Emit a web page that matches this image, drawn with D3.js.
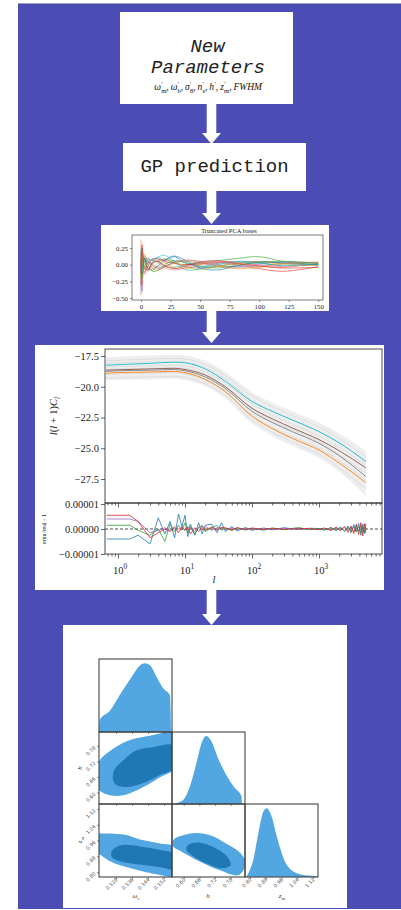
<!DOCTYPE html>
<html>
<head>
<meta charset="utf-8">
<script src="https://cdn.jsdelivr.net/npm/d3@7"></script>
<style>
  body { margin: 0; background: #fff; }
  svg { display: block; }
</style>
</head>
<body>
<svg id="chart" width="401" height="910"></svg>
<script>
// ---------- data ----------
const paramParts = [['ω', 'm'], ['ω', 'b'], ['σ', '8'], ['n', 's'], ['h', ''], ['z', 'm'], ['FWHM', '']];

// truncated PCA bases
const pcaX = [0, 1, 3, 6, 10, 15, 20, 28, 38, 50, 65, 80, 100, 120, 150];
const pcaBases = [
  [0.20, -0.15, 0.10, -0.08, 0.05, 0.10, 0.06, 0.12, 0.02, -0.03, 0.02, 0.05, 0.03, -0.02, 0.01],
  [0.38, -0.30, 0.15, 0.05, -0.05, -0.02, 0.03, -0.05, -0.06, 0.00, 0.04, 0.03, -0.02, -0.04, 0.02],
  [-0.10, 0.12, -0.05, 0.08, 0.06, 0.04, -0.02, -0.04, 0.00, 0.03, 0.06, 0.09, 0.12, 0.05, 0.00],
  [-0.30, 0.25, -0.12, 0.02, 0.09, 0.08, 0.05, 0.02, 0.00, 0.01, 0.03, 0.00, -0.06, -0.10, -0.03],
  [0.10, -0.40, 0.05, 0.10, -0.02, -0.06, -0.03, 0.04, 0.07, 0.05, 0.00, -0.03, 0.01, 0.04, 0.03],
  [-0.45, 0.18, 0.08, -0.05, 0.02, 0.06, 0.08, 0.03, -0.03, -0.05, -0.02, 0.02, 0.05, 0.02, -0.01],
  [0.05, 0.02, -0.15, -0.02, 0.08, 0.02, -0.05, -0.08, -0.04, 0.02, 0.05, 0.04, 0.00, -0.03, 0.02],
  [0.15, -0.05, 0.12, 0.05, 0.00, -0.04, -0.02, 0.03, 0.05, 0.02, -0.02, -0.04, -0.02, 0.02, 0.03],
  [-0.20, 0.10, 0.00, -0.10, -0.04, 0.04, 0.09, 0.05, -0.04, -0.07, -0.03, 0.02, 0.04, 0.01, -0.02],
  [0.25, -0.10, 0.05, 0.03, 0.08, 0.12, 0.14, 0.05, -0.08, -0.06, 0.00, 0.04, 0.02, -0.01, 0.01],
  [-0.05, 0.05, 0.08, -0.06, -0.08, 0.00, 0.07, 0.13, 0.06, -0.05, -0.08, -0.02, 0.04, 0.03, 0.00],
  [0.00, 0.15, -0.08, 0.06, -0.06, -0.08, -0.04, 0.02, 0.06, 0.04, -0.02, -0.06, -0.04, 0.01, 0.04],
  [0.08, -0.20, 0.10, 0.00, -0.10, -0.08, 0.00, 0.06, 0.03, -0.02, -0.05, -0.01, 0.03, 0.05, 0.02],
  [-0.15, 0.30, -0.05, -0.08, 0.03, 0.05, -0.02, -0.06, -0.02, 0.04, 0.06, 0.02, -0.02, -0.05, -0.04]
];
const pcaYTicks = [-0.50, -0.25, 0.00, 0.25];
const pcaXTicks = [0, 25, 50, 75, 100, 125, 150];

// power spectra l(l+1)C_l (log)
const ell = [0.66, 1, 3, 7, 10, 20, 40, 100, 200, 400, 1000, 2000, 5000];
const fanHi = [-17.6, -17.55, -17.45, -17.4, -17.45, -17.9, -18.8, -20.45, -21.3, -22.0, -22.9, -23.8, -25.2];
const fanLo = [-19.5, -19.45, -19.4, -19.35, -19.45, -19.95, -20.95, -23.0, -24.0, -24.8, -25.8, -26.9, -28.9];
const fanLines = [
  [-17.9, -17.85, -17.75, -17.7, -17.75, -18.2, -19.1, -20.75, -21.6, -22.35, -23.25, -24.2, -25.7],
  [-18.4, -18.35, -18.3, -18.25, -18.3, -18.8, -19.7, -21.4, -22.3, -23.05, -24.0, -24.9, -26.4],
  [-19.0, -18.95, -18.9, -18.85, -18.95, -19.45, -20.4, -22.3, -23.3, -24.05, -25.0, -26.0, -27.6],
  [-19.3, -19.25, -19.2, -19.15, -19.25, -19.75, -20.7, -22.7, -23.7, -24.5, -25.5, -26.6, -28.3],
  [-18.1, -18.05, -18.0, -17.95, -18.0, -18.45, -19.35, -21.1, -21.95, -22.7, -23.65, -24.6, -26.0],
  [-18.6, -18.55, -18.5, -18.45, -18.5, -19.0, -19.95, -21.8, -22.75, -23.5, -24.45, -25.5, -27.0]
];
const clCyan = [-18.25, -18.2, -18.1, -18.0, -18.05, -18.55, -19.55, -21.2, -22.0, -22.7, -23.65, -24.55, -26.1];
const clBrown = [-18.65, -18.62, -18.55, -18.5, -18.6, -19.05, -20.0, -21.75, -22.6, -23.35, -24.3, -25.2, -26.6];
const clGrey = [-18.75, -18.7, -18.65, -18.6, -18.7, -19.2, -20.15, -22.0, -22.9, -23.65, -24.6, -25.6, -27.3];
const clOrange = [-18.9, -18.85, -18.8, -18.75, -18.85, -19.4, -20.4, -22.4, -23.4, -24.2, -25.15, -26.2, -27.8];
const clYTicks = [-27.5, -25.0, -22.5, -20.0, -17.5];

// residuals emu/real - 1, in units of 1e-5
const resL = [0.68, 1.5, 2, 3, 4, 5, 6, 7, 8, 9, 10, 11, 12, 14, 16, 18, 20, 25, 30, 35, 40, 50, 60, 80, 100, 150, 200, 300, 500, 700, 1000,
  1200, 1500, 1800, 2100, 2400, 2700, 3000, 3300, 3600, 3900, 4200, 4500, 4800, 5000];
const resBlue = [-0.40, -0.40, -0.25, -0.60, 0.45, -0.20, 0.30, -0.35, 0.60, 0.10, 0.55, -0.30, 0.20, -0.25, 0.25, -0.20, 0.15, 0.20, -0.15, 0.25, -0.10, 0.10, -0.08, 0.06, -0.05, 0.04, -0.03, 0.05, -0.02, 0.03, 0.02,
  -0.05, 0.06, -0.04, 0.08, -0.10, 0.12, -0.15, 0.18, -0.12, 0.22, -0.25, 0.20, -0.18, 0.20];
const resGreen = [0.15, 0.15, -0.05, -0.25, 0.00, -0.50, 0.20, -0.10, 0.15, -0.05, 0.25, -0.15, 0.10, -0.20, 0.05, 0.15, -0.10, 0.05, 0.15, -0.05, 0.03, -0.06, 0.04, -0.04, 0.03, -0.05, 0.04, -0.02, 0.06, -0.03, 0.02,
  -0.03, 0.05, -0.06, 0.04, -0.08, 0.07, -0.10, 0.09, -0.12, 0.10, -0.14, 0.12, -0.10, 0.05];
const resPurple = [0.40, 0.40, 0.30, -0.15, -0.05, 0.05, -0.05, 0.10, 0.00, 0.05, -0.05, 0.10, 0.05, -0.10, 0.08, -0.05, 0.10, -0.05, 0.05, 0.04, -0.03, 0.05, -0.02, 0.03, -0.03, 0.02, -0.02, 0.03, -0.01, 0.02, -0.02,
  0.03, -0.04, 0.05, -0.06, 0.07, -0.05, 0.09, -0.10, 0.12, -0.08, 0.14, -0.12, 0.10, 0.08];
const resRed = [0.55, 0.55, 0.30, -0.35, -0.15, 0.00, -0.10, 0.05, -0.15, 0.10, -0.05, 0.08, -0.20, 0.05, -0.10, 0.12, -0.05, 0.08, -0.05, 0.06, 0.05, -0.04, 0.06, -0.03, 0.04, -0.02, 0.03, -0.02, 0.02, 0.01, -0.02,
  0.04, -0.06, 0.08, -0.05, 0.10, -0.14, 0.12, -0.18, 0.20, -0.22, 0.25, -0.28, 0.22, -0.15];
const resYTicks = [-1, 0, 1];
const decades = [1, 10, 100, 1000];

// posterior corner plot: marginals [value, density]
const wcMarg = [[0.1195, 0.0], [0.1200, 0.18], [0.1250, 0.31], [0.1308, 0.58], [0.1358, 0.80], [0.1400, 0.97], [0.1425, 1.0], [0.1450, 0.97], [0.1483, 0.80], [0.1517, 0.63], [0.1550, 0.53], [0.1556, 0.0]];
const hMarg = [[0.566, 0.01], [0.598, 0.06], [0.623, 0.25], [0.648, 0.59], [0.667, 0.88], [0.686, 1.0], [0.705, 0.93], [0.730, 0.69], [0.761, 0.44], [0.793, 0.25], [0.822, 0.11], [0.823, 0.0], [0.565, 0.0]];
const zMarg = [[0.784, 0.01], [0.817, 0.25], [0.843, 0.64], [0.868, 0.95], [0.885, 1.0], [0.910, 0.88], [0.936, 0.59], [0.969, 0.28], [1.020, 0.08], [1.088, 0.02], [1.139, 0.01], [1.139, 0.0], [0.784, 0.0]];
// 2D credible contours (outer 95%, inner 68%)
const wcH95 = [[0.1197, 0.723], [0.125, 0.761], [0.1334, 0.799], [0.1433, 0.818], [0.160, 0.83], [0.158, 0.697], [0.150, 0.659], [0.1417, 0.621], [0.1317, 0.589], [0.125, 0.589], [0.1197, 0.608], [0.1175, 0.659]];
const wcH68 = [[0.1270, 0.685], [0.1317, 0.725], [0.138, 0.763], [0.1467, 0.776], [0.1570, 0.782], [0.1575, 0.697], [0.150, 0.668], [0.1417, 0.637], [0.1317, 0.621], [0.1270, 0.638]];
const wcZ95 = [[0.1170, 1.00], [0.1197, 0.997], [0.132, 0.99], [0.140, 0.965], [0.150, 0.945], [0.158, 0.925], [0.158, 0.78], [0.150, 0.785], [0.135, 0.82], [0.125, 0.855], [0.1197, 0.89], [0.117, 0.90]];
const wcZ68 = [[0.1258, 0.905], [0.1300, 0.935], [0.140, 0.93], [0.150, 0.912], [0.158, 0.890], [0.158, 0.815], [0.150, 0.825], [0.140, 0.838], [0.130, 0.855], [0.126, 0.875]];
const hZ95 = [[0.560, 0.963], [0.635, 0.997], [0.698, 0.988], [0.761, 0.946], [0.818, 0.895], [0.837, 0.845], [0.812, 0.785], [0.736, 0.810], [0.661, 0.853], [0.592, 0.903], [0.560, 0.929]];
const hZ68 = [[0.617, 0.937], [0.661, 0.949], [0.724, 0.920], [0.767, 0.878], [0.780, 0.836], [0.749, 0.819], [0.686, 0.845], [0.629, 0.887], [0.610, 0.912]];
const wcTicks = [0.128, 0.136, 0.144, 0.152];
const hTicks = [0.60, 0.66, 0.72, 0.78];
const zTicks = [0.80, 0.88, 0.96, 1.04, 1.12];

// ---------- helpers ----------
const svg = d3.select('#chart');
const serif = 'Liberation Serif, DejaVu Serif, serif';
const mono = 'Liberation Mono, DejaVu Sans Mono, monospace';
const minus = s => s.replace('-', '\u2212');

// rich text: segments {t, it, sh, dx} where sh is baseline shift in em (+ down)
function rich(sel, segs, size) {
  let off = 0;
  segs.forEach(s => {
    const sh = (s.sh || 0) * size;
    const ts = sel.append('tspan').text(s.t);
    if (sh - off !== 0) ts.attr('dy', sh - off);
    if (s.it) ts.attr('font-style', 'italic');
    if (s.sh) ts.attr('font-size', size * 0.7);
    if (s.dx) ts.attr('dx', s.dx);
    off = sh;
  });
  return sel;
}

// ---------- background and flow ----------
svg.append('rect').attr('x', 18).attr('y', 3).attr('width', 383).attr('height', 906).attr('fill', '#4b4db4');
svg.append('line').attr('x1', 18).attr('x2', 401).attr('y1', 3.5).attr('y2', 3.5).attr('stroke', '#a0a0b8').attr('stroke-width', 1);

const boxes = [[120, 12, 173, 92], [123, 143, 183, 48], [101, 225, 228, 86], [35, 345, 349, 245], [63, 625, 284, 283]];
svg.selectAll('rect.box').data(boxes).join('rect').attr('class', 'box')
  .attr('x', d => d[0]).attr('y', d => d[1]).attr('width', d => d[2]).attr('height', d => d[3]).attr('fill', '#fff');

const arrows = [[104, 144], [191, 224], [311, 343], [590, 625]];
svg.selectAll('path.arrow').data(arrows).join('path').attr('class', 'arrow').attr('fill', '#fff')
  .attr('d', d => {
    const cx = 211.5, hw = 4.8, hh = 9.5, head = 11;
    const p = d3.path();
    p.moveTo(cx - hw, d[0]); p.lineTo(cx + hw, d[0]); p.lineTo(cx + hw, d[1] - head);
    p.lineTo(cx + hh, d[1] - head); p.lineTo(cx, d[1]); p.lineTo(cx - hh, d[1] - head);
    p.lineTo(cx - hw, d[1] - head); p.closePath();
    return p.toString();
  });

// box 1 text
svg.append('text').attr('x', 207.5).attr('y', 52).attr('text-anchor', 'middle').attr('font-family', mono)
  .attr('font-style', 'italic').attr('font-size', 19).attr('fill', '#222').text('New');
svg.append('text').attr('x', 208).attr('y', 73).attr('text-anchor', 'middle').attr('font-family', mono)
  .attr('font-style', 'italic').attr('font-size', 19).attr('fill', '#222').text('Parameters');
const pSegs = [];
paramParts.forEach((p, i) => {
  pSegs.push({ t: p[0], it: 1 });
  pSegs.push({ t: '\u2032', sh: -0.4, dx: 0.3 });
  if (p[1]) pSegs.push({ t: p[1], sh: 0.3, dx: -1.6 });
  if (i < paramParts.length - 1) pSegs.push({ t: ',\u2009' });
});
rich(svg.append('text').attr('x', 209).attr('y', 90).attr('text-anchor', 'middle').attr('font-family', serif)
  .attr('font-size', 9.5).attr('fill', '#111'), pSegs, 9.5);

// box 2 text
svg.append('text').attr('x', 214.5).attr('y', 172).attr('text-anchor', 'middle').attr('font-family', mono)
  .attr('font-size', 19).attr('fill', '#222').text('GP prediction');

// ---------- PCA panel ----------
{
  const x = d3.scaleLinear([-7.6, 154], [132, 323]);
  const y = d3.scaleLinear([-0.53, 0.445], [300, 235]);
  const g = svg.append('g');
  g.append('clipPath').attr('id', 'cpPca').append('rect').attr('x', 132).attr('y', 235).attr('width', 191).attr('height', 65);
  const line = d3.line().x((d, i) => x(pcaX[i])).y(d => y(d)).curve(d3.curveCatmullRom);
  g.append('g').attr('clip-path', 'url(#cpPca)').selectAll('path').data(pcaBases).join('path')
    .attr('d', line).attr('fill', 'none').attr('stroke', (d, i) => d3.schemeCategory10[i % 10]).attr('stroke-width', 0.6);
  g.append('rect').attr('x', 132).attr('y', 235).attr('width', 191).attr('height', 65).attr('fill', 'none').attr('stroke', '#222').attr('stroke-width', 0.6);
  const ax = g.append('g').attr('transform', 'translate(0,300)')
    .call(d3.axisBottom(x).tickValues(pcaXTicks).tickSize(2).tickPadding(2).tickFormat(d3.format('d')));
  const ay = g.append('g').attr('transform', 'translate(132,0)')
    .call(d3.axisLeft(y).tickValues(pcaYTicks).tickSize(2).tickPadding(2).tickFormat(d => minus(d3.format('.2f')(d))));
  [ax, ay].forEach(a => {
    a.select('.domain').remove();
    a.selectAll('line').attr('stroke', '#222').attr('stroke-width', 0.5);
    a.selectAll('text').attr('font-family', serif).attr('font-size', 6.8).attr('fill', '#222');
  });
  g.append('text').attr('x', 229).attr('y', 232.5).attr('text-anchor', 'middle').attr('font-family', serif)
    .attr('font-size', 6.5).attr('fill', '#222').text('Truncated PCA bases');
}

// ---------- power spectrum panel ----------
{
  const x = d3.scaleLog([0.64, 8700], [105, 382]);
  const y = d3.scaleLinear([-29.45, -16.93], [503, 349]);
  const yr = d3.scaleLinear([-1, 1], [554, 504]);
  const g = svg.append('g');
  g.append('clipPath').attr('id', 'cpMain').append('rect').attr('x', 105).attr('y', 349).attr('width', 277).attr('height', 154);
  g.append('clipPath').attr('id', 'cpRes').append('rect').attr('x', 105).attr('y', 503).attr('width', 277).attr('height', 51);
  const m = g.append('g').attr('clip-path', 'url(#cpMain)');
  m.append('path').attr('d', d3.area().x((d, i) => x(ell[i])).y0((d, i) => y(fanLo[i])).y1(d => y(d)).curve(d3.curveMonotoneX)(fanHi))
    .attr('fill', '#eeeeee');
  const line = d3.line().x((d, i) => x(ell[i])).y(d => y(d)).curve(d3.curveMonotoneX);
  m.selectAll('path.fan').data(fanLines).join('path').attr('class', 'fan').attr('d', line)
    .attr('fill', 'none').attr('stroke', '#d2d2d2').attr('stroke-width', 0.6);
  [[clCyan, '#17becf'], [clBrown, '#8c564b'], [clGrey, '#7f7f7f'], [clOrange, '#ff7f0e']].forEach(s => {
    m.append('path').attr('d', line(s[0])).attr('fill', 'none').attr('stroke', s[1]).attr('stroke-width', 0.9);
  });

  const r = g.append('g').attr('clip-path', 'url(#cpRes)');
  r.append('line').attr('x1', 105).attr('x2', 382).attr('y1', yr(0)).attr('y2', yr(0))
    .attr('stroke', '#000').attr('stroke-width', 0.7).attr('stroke-dasharray', '3,2');
  const rline = d3.line().x((d, i) => x(resL[i])).y(d => yr(d));
  [[resBlue, '#1f77b4'], [resGreen, '#2ca02c'], [resPurple, '#9467bd'], [resRed, '#d62728']].forEach(s => {
    r.append('path').attr('d', rline(s[0])).attr('fill', 'none').attr('stroke', s[1]).attr('stroke-width', 0.8);
  });

  g.append('rect').attr('x', 105).attr('y', 349).attr('width', 277).attr('height', 154).attr('fill', 'none').attr('stroke', '#222').attr('stroke-width', 0.8);
  g.append('rect').attr('x', 105).attr('y', 503).attr('width', 277).attr('height', 51).attr('fill', 'none').attr('stroke', '#222').attr('stroke-width', 0.8);

  const minor = x.ticks().filter(t => !decades.includes(t));
  [503, 554].forEach(yy => {
    const a1 = g.append('g').attr('transform', `translate(0,${yy})`).call(d3.axisBottom(x).tickValues(minor).tickSize(2.5).tickFormat(''));
    const a2 = g.append('g').attr('transform', `translate(0,${yy})`).call(d3.axisBottom(x).tickValues(decades).tickSize(4.5).tickFormat(''));
    [a1, a2].forEach(a => { a.select('.domain').remove(); a.selectAll('line').attr('stroke', '#222').attr('stroke-width', 0.7); });
  });
  const ay = g.append('g').attr('transform', 'translate(105,0)')
    .call(d3.axisLeft(y).tickValues(clYTicks).tickSize(4).tickPadding(2).tickFormat(d => minus(d3.format('.1f')(d))));
  const ayr = g.append('g').attr('transform', 'translate(105,0)')
    .call(d3.axisLeft(yr).tickValues(resYTicks).tickSize(4).tickPadding(2).tickFormat(d => minus((d * 1e-5).toFixed(5))));
  [ay, ayr].forEach(a => {
    a.select('.domain').remove();
    a.selectAll('line').attr('stroke', '#222').attr('stroke-width', 0.7);
    a.selectAll('text').attr('font-family', serif).attr('font-size', 10.5).attr('fill', '#222');
  });
  decades.forEach((d, i) => {
    rich(g.append('text').attr('x', x(d) + 2).attr('y', 574).attr('text-anchor', 'middle').attr('font-family', serif)
      .attr('font-size', 10.5).attr('fill', '#222'), [{ t: '10' }, { t: String(i), sh: -0.45 }], 10.5);
  });
  g.append('text').attr('x', 214).attr('y', 583).attr('text-anchor', 'middle').attr('font-family', serif)
    .attr('font-style', 'italic').attr('font-size', 10.5).attr('fill', '#222').text('l');
  rich(g.append('text').attr('transform', 'translate(57,416) rotate(-90)').attr('text-anchor', 'middle')
    .attr('font-family', serif).attr('font-size', 10.5).attr('fill', '#222'),
    [{ t: 'l', it: 1 }, { t: '(' }, { t: 'l', it: 1 }, { t: ' + 1)' }, { t: 'C', it: 1 }, { t: 'l', it: 1, sh: 0.3 }], 10.5);
  g.append('text').attr('transform', 'translate(46,529) rotate(-90)').attr('text-anchor', 'middle')
    .attr('font-family', serif).attr('font-size', 6.2).attr('fill', '#222').text('emu/real - 1');
}

// ---------- corner plot ----------
{
  const light = '#52a6e1', dark = '#1f77b4';
  const wcX = d3.scaleLinear([0.1195, 0.156], [99, 172]);
  const hX = d3.scaleLinear([0.555, 0.835], [172, 245]);
  const zX = d3.scaleLinear([0.775, 1.145], [245, 318]);
  const hY = d3.scaleLinear([0.555, 0.835], [804, 732]);
  const zY = d3.scaleLinear([0.775, 1.145], [877, 804]);
  const rows = [[659, 732], [732, 804], [804, 877]];
  const cols = [[99, 172], [172, 245], [245, 318]];
  const g = svg.append('g');
  const fmt = d3.format('.3f'), fmt2 = d3.format('.2f');

  function panel(r, c, id) {
    g.append('clipPath').attr('id', id).append('rect').attr('x', cols[c][0]).attr('y', rows[r][0])
      .attr('width', cols[c][1] - cols[c][0]).attr('height', rows[r][1] - rows[r][0]);
    return g.append('g').attr('clip-path', `url(#${id})`);
  }
  function marg(r, c, xs, data, id) {
    const dy = d3.scaleLinear([0, 1.06], [rows[r][1], rows[r][0]]);
    panel(r, c, id).append('path').attr('fill', light)
      .attr('d', d3.line().x(d => xs(d[0])).y(d => dy(d[1])).curve(d3.curveMonotoneX)(data));
  }
  function cont(r, c, xs, ys, outer, inner, id) {
    const p = panel(r, c, id);
    const ln = d3.line().x(d => xs(d[0])).y(d => ys(d[1])).curve(d3.curveCatmullRomClosed);
    p.append('path').attr('d', ln(outer)).attr('fill', light);
    p.append('path').attr('d', ln(inner)).attr('fill', dark);
  }
  marg(0, 0, wcX, wcMarg, 'cp00');
  marg(1, 1, hX, hMarg, 'cp11');
  marg(2, 2, zX, zMarg, 'cp22');
  cont(1, 0, wcX, hY, wcH95, wcH68, 'cp10');
  cont(2, 0, wcX, zY, wcZ95, wcZ68, 'cp20');
  cont(2, 1, hX, zY, hZ95, hZ68, 'cp21');

  const frames = [[0, 0], [1, 0], [1, 1], [2, 0], [2, 1], [2, 2]];
  frames.forEach(f => {
    g.append('rect').attr('x', cols[f[1]][0]).attr('y', rows[f[0]][0]).attr('width', 73).attr('height', rows[f[0]][1] - rows[f[0]][0])
      .attr('fill', 'none').attr('stroke', '#444').attr('stroke-width', 1.1);
  });

  const tickStyle = a => {
    a.select('.domain').remove();
    a.selectAll('line').attr('stroke', '#444').attr('stroke-width', 0.6);
  };
  // bottom ticks on every column, labels on the last row
  [[wcX, wcTicks, fmt], [hX, hTicks, fmt2], [zX, zTicks, fmt2]].forEach((s, c) => {
    for (let r = c; r < 3; r++) {
      const a = g.append('g').attr('transform', `translate(0,${rows[r][1]})`).call(d3.axisBottom(s[0]).tickValues(s[1]).tickSize(2).tickFormat(''));
      tickStyle(a);
    }
    s[1].forEach(t => {
      g.append('text').attr('transform', `translate(${s[0](t) + 2},${880}) rotate(-45)`).attr('text-anchor', 'end')
        .attr('font-family', 'DejaVu Sans, sans-serif').attr('font-size', 5).attr('fill', '#555').text(s[2](t));
    });
  });
  [[hY, hTicks, fmt2, 1], [zY, zTicks, fmt2, 2]].forEach(s => {
    const a = g.append('g').attr('transform', 'translate(99,0)').call(d3.axisLeft(s[0]).tickValues(s[1]).tickSize(2).tickFormat(''));
    tickStyle(a);
    s[1].forEach(t => {
      g.append('text').attr('transform', `translate(96,${s[0](t) + 2}) rotate(-45)`).attr('text-anchor', 'end')
        .attr('font-family', 'DejaVu Sans, sans-serif').attr('font-size', 5).attr('fill', '#555').text(s[2](t));
    });
  });
  const lab = (x, y, rot, segs) => rich(g.append('text').attr('transform', `translate(${x},${y}) rotate(${rot})`)
    .attr('text-anchor', 'middle').attr('font-family', serif).attr('font-size', 7).attr('fill', '#333'), segs, 7);
  lab(136, 898, 0, [{ t: 'ω', it: 1 }, { t: 'c', it: 1, sh: 0.3 }]);
  lab(208, 898, 0, [{ t: 'h', it: 1 }]);
  lab(282, 898, 0, [{ t: 'z', it: 1 }, { t: 'm', sh: 0.3 }]);
  lab(82, 768, -90, [{ t: 'h', it: 1 }]);
  lab(82, 840, -90, [{ t: 'z', it: 1 }, { t: 'm', sh: 0.3 }]);
}
</script>
</body>
</html>
